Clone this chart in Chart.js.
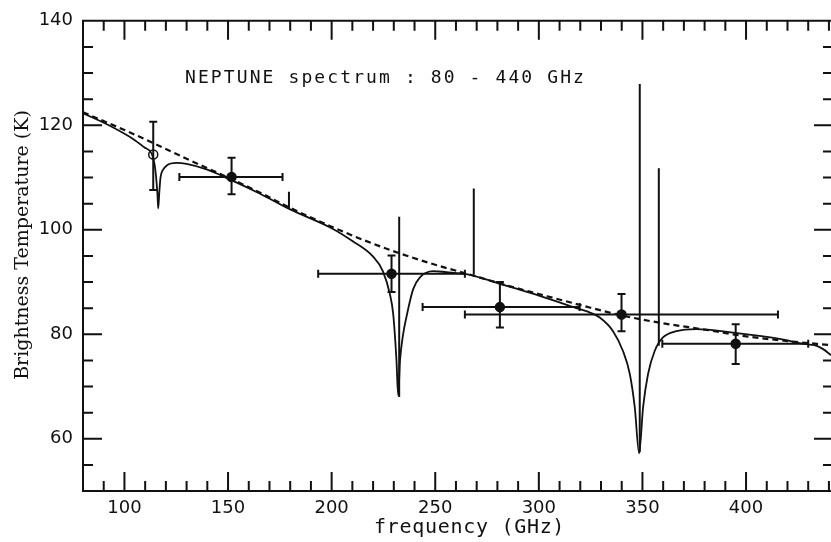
<!DOCTYPE html>
<html>
<head>
<meta charset="utf-8">
<script src="https://cdn.jsdelivr.net/npm/chart.js@4.4.1/dist/chart.umd.min.js"></script>
<style>
  html, body { margin: 0; padding: 0; background: #fff; }
  #wrap { width: 831px; height: 542px; position: relative; }
</style>
</head>
<body>
<div id="wrap"><canvas id="neptuneChart"></canvas></div>
<script>
// Neptune spectrum 80 - 440 GHz

// smooth model (dashed)
const dashFreq = [80, 90, 100, 115, 130, 150, 165, 180, 200, 215, 232, 250, 266, 285, 300, 320, 340, 360, 380, 400, 420, 441];
const dashTemp = [122.5, 120.8, 119.1, 116.4, 113.6, 110.0, 107.2, 104.2, 100.6, 98.1, 95.6, 93.3, 91.5, 89.3, 87.7, 85.6, 83.6, 82.1, 80.9, 79.6, 78.7, 77.9];

// model with CO lines (solid)
const lineFreq = [80, 92, 104.5, 109.5, 113.1, 114.5, 115.3, 115.9, 116.3, 116.8, 117.4, 118.5, 120.4, 125.2, 130, 140, 150, 165, 180, 200,
  210.2, 219.9, 224.7, 228.1, 229.7, 231.3, 232.1, 233, 234.5, 236.2, 239.3, 242.6, 249, 255.4, 265.1, 272, 285, 300, 319, 325,
  329.4, 335.8, 340.6, 343.9, 346.3, 348.4, 350.3, 352.7, 355.9, 359.9, 366.4, 376, 393.7, 416.2, 429, 433, 437, 441];
const lineTemp = [122.3, 120.1, 117.3, 115.8, 114.6, 112.6, 110.0, 107.0, 104.1, 107.0, 110.0, 111.4, 112.3, 112.8, 112.6, 111.5, 109.8, 107.0, 103.9, 100.3,
  97.8, 94.9, 92.1, 87.7, 83.9, 74.9, 68.3, 75.0, 80.0, 83.5, 88.6, 90.9, 92.1, 91.9, 91.5, 90.8, 89.2, 87.4, 84.9, 84.1,
  83.2, 80.6, 76.8, 72.4, 66.0, 57.2, 66.0, 72.4, 76.8, 79.4, 80.6, 81.0, 80.3, 79.1, 78.1, 77.9, 77.2, 76.0];

// measurements with error bars
const ptFreq   = [113.9, 151.7, 228.9, 281.2, 339.9, 395.0];
const ptTemp   = [114.4, 110.1, 91.6, 85.2, 83.8, 78.2];
const ptTempLo = [107.6, 106.8, 88.1, 81.3, 80.6, 74.3];
const ptTempHi = [120.7, 113.8, 95.1, 90.0, 87.7, 81.9];
const ptFreqLo = [null, 126.5, 193.5, 243.9, 264.3, 359.6];
const ptFreqHi = [null, 176.3, 264.3, 319.7, 415.4, 430.0];
const ptFilled = [false, true, true, true, true, true];

// vertical bars
const spikeFreq = [179.4, 232.6, 268.6, 348.7, 357.9];
const spikeLo   = [104.1, 68.0, 91.4, 57.4, 77.8];
const spikeHi   = [107.3, 102.5, 107.9, 127.9, 111.8];

const xTickLabels = [100, 150, 200, 250, 300, 350, 400];
const yTickLabels = [60, 80, 100, 120, 140];

const plotTitle = 'NEPTUNE spectrum : 80 - 440 GHz';
const xTitle = 'frequency (GHz)';
const yTitle = 'Brightness Temperature (K)';

const ink = '#111';

const spikeData = [];
spikeFreq.forEach((f, i) => {
    spikeData.push({ x: f, y: spikeLo[i] }, { x: f, y: spikeHi[i] }, { x: f, y: null });
});

// frame with inward ticks on all four sides
const framePlugin = {
    id: 'frame',
    afterDraw(chart) {
        const { ctx, chartArea: a, scales: { x, y } } = chart;
        ctx.save();
        ctx.strokeStyle = ink;
        ctx.lineWidth = 2;
        ctx.beginPath();
        ctx.moveTo(a.right + 2, a.top);
        ctx.lineTo(a.left, a.top);
        ctx.lineTo(a.left, a.bottom);
        ctx.lineTo(a.right + 2, a.bottom);
        ctx.stroke();
        ctx.beginPath();
        for (let v = 90; v <= 440; v += 10) {
            const px = x.getPixelForValue(v);
            const len = v % 50 === 0 ? 19 : 10;
            ctx.moveTo(px, a.bottom); ctx.lineTo(px, a.bottom - len);
            ctx.moveTo(px, a.top); ctx.lineTo(px, a.top + len);
        }
        for (let v = 55; v <= 135; v += 5) {
            const py = y.getPixelForValue(v);
            const major = v % 20 === 0;
            ctx.moveTo(a.left, py); ctx.lineTo(a.left + (major ? 19 : 10), py);
            ctx.moveTo(a.right, py); ctx.lineTo(a.right - (major ? 17 : 8), py);
        }
        ctx.stroke();
        ctx.restore();
    }
};

// error bars from the point arrays
const errorBarPlugin = {
    id: 'errorBars',
    afterDatasetsDraw(chart) {
        const { ctx, scales: { x, y } } = chart;
        ctx.save();
        ctx.strokeStyle = ink;
        ctx.lineWidth = 2;
        ctx.beginPath();
        ptFreq.forEach((f, i) => {
            const px = x.getPixelForValue(f);
            const py = y.getPixelForValue(ptTemp[i]);
            const top = y.getPixelForValue(ptTempHi[i]);
            const bot = y.getPixelForValue(ptTempLo[i]);
            ctx.moveTo(px, top); ctx.lineTo(px, bot);
            ctx.moveTo(px - 4, top); ctx.lineTo(px + 4, top);
            ctx.moveTo(px - 4, bot); ctx.lineTo(px + 4, bot);
            if (ptFreqLo[i] !== null) {
                const l = x.getPixelForValue(ptFreqLo[i]);
                const r = x.getPixelForValue(ptFreqHi[i]);
                ctx.moveTo(l, py); ctx.lineTo(r, py);
                ctx.moveTo(l, py - 4); ctx.lineTo(l, py + 4);
                ctx.moveTo(r, py - 4); ctx.lineTo(r, py + 4);
            }
        });
        ctx.stroke();
        ctx.restore();
    }
};

// plot title and axis titles
const textPlugin = {
    id: 'texts',
    afterDraw(chart) {
        const { ctx } = chart;
        ctx.save();
        ctx.fillStyle = ink;
        ctx.textBaseline = 'middle';
        ctx.textAlign = 'left';
        ctx.font = '18px "DejaVu Sans Mono"';
        ctx.letterSpacing = '2.1px';
        ctx.fillText(plotTitle, 185, 78);

        ctx.font = '20px "DejaVu Sans Mono"';
        ctx.letterSpacing = '0.7px';
        ctx.fillText(xTitle, 374, 528);

        ctx.letterSpacing = '0px';
        ctx.font = '19px "DejaVu Serif"';
        ctx.textAlign = 'center';
        ctx.translate(23, 245);
        ctx.rotate(-Math.PI / 2);
        ctx.fillText(yTitle, 0, 0);
        ctx.restore();
    }
};

const ctxN = document.getElementById('neptuneChart');
const neptuneChart = new Chart(ctxN, {
    type: 'line',
    data: {
        datasets: [{
            label: 'model + CO',
            data: lineFreq.map((f, i) => ({ x: f, y: lineTemp[i] })),
            borderColor: ink,
            borderWidth: 1.8,
            pointRadius: 0,
            cubicInterpolationMode: 'monotone'
        }, {
            label: 'continuum',
            data: dashFreq.map((f, i) => ({ x: f, y: dashTemp[i] })),
            borderColor: ink,
            borderWidth: 2.2,
            borderDash: [6, 4],
            pointRadius: 0,
            cubicInterpolationMode: 'monotone'
        }, {
            label: 'bars',
            data: spikeData,
            borderColor: ink,
            borderWidth: 2,
            pointRadius: 0,
            spanGaps: false
        }, {
            type: 'scatter',
            label: 'data',
            data: ptFreq.map((f, i) => ({ x: f, y: ptTemp[i] })),
            pointRadius: 4.5,
            pointBorderWidth: 1.5,
            pointBorderColor: ink,
            pointBackgroundColor: ptFilled.map(v => v ? ink : '#fff'),
            showLine: false
        }]
    },
    options: {
        responsive: true,
        maintainAspectRatio: false,
        animation: false,
        layout: { autoPadding: false, padding: { top: 18, right: 0, bottom: 0, left: 0 } },
        plugins: {
            legend: { display: false },
            tooltip: { enabled: false }
        },
        scales: {
            x: {
                type: 'linear',
                min: 80,
                max: 441,
                grid: { display: false, drawTicks: false },
                border: { display: false },
                afterBuildTicks: s => { s.ticks = xTickLabels.map(v => ({ value: v })); },
                afterFit: s => { s.height = 51; },
                ticks: {
                    color: ink,
                    padding: 7,
                    maxRotation: 0,
                    autoSkip: false,
                    font: { family: 'DejaVu Sans', size: 18 }
                }
            },
            y: {
                min: 50,
                max: 140,
                grid: { display: false, drawTicks: false },
                border: { display: false },
                afterBuildTicks: s => { s.ticks = yTickLabels.map(v => ({ value: v })); },
                afterFit: s => { s.width = 83; },
                ticks: {
                    color: ink,
                    padding: 10,
                    autoSkip: false,
                    font: { family: 'DejaVu Sans', size: 18 }
                }
            }
        }
    },
    plugins: [framePlugin, errorBarPlugin, textPlugin]
});
</script>
</body>
</html>
